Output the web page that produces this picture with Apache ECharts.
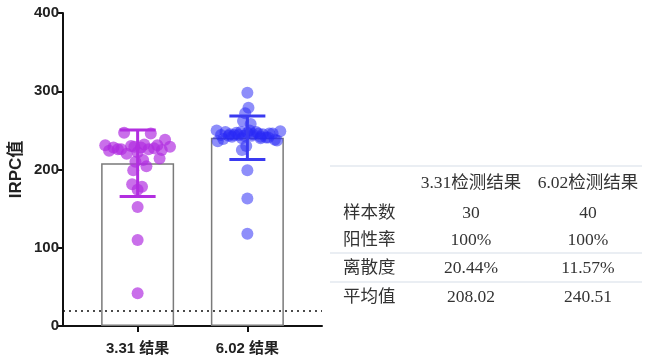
<!DOCTYPE html>
<html>
<head>
<meta charset="utf-8">
<script src="https://cdn.jsdelivr.net/npm/echarts@6/dist/echarts.min.js"></script>
<style>html,body{margin:0;padding:0;background:#fff;}#c{width:650px;height:364px;}</style>
</head>
<body>
<div id="c"></div>
<script>
// ---- data ----
const categories = ['3.31 结果', '6.02 结果'];
const yAxisName = 'IRPC值';
const means = [208.02, 240.51];
const sds = [42.52, 27.83];
const refLineValue = 20;
const g1Values = [42, 110, 152, 174, 178, 181, 199, 204, 210, 212,
  247, 246, 238, 231, 229, 228, 226, 225, 230, 232,
  227, 224, 222, 220, 226, 228, 229, 231, 226, 214];
const g1Offsets = [0, 0, 0, 0, 0.04, -0.05, -0.04, 0.08, -0.02, 0.05,
  -0.123, 0.12, 0.25, -0.295, 0.295, -0.22, -0.15, 0.22, -0.06, 0.06,
  0.15, -0.26, 0.0, -0.1, 0.1, 0.03, -0.03, 0.18, -0.18, 0.2];
const g2Values = [298, 279, 272, 262, 258, 230, 225, 199, 163, 118,
  250, 249, 236, 237, 248, 246, 244, 242, 240, 245,
  247, 243, 241, 239, 246, 244, 248, 242, 245, 250,
  238, 243, 246, 244, 247, 241, 245, 243, 248, 240];
const g2Offsets = [0, 0.01, -0.02, -0.04, 0.03, -0.01, -0.05, 0, 0, 0,
  -0.28, 0.30, -0.27, 0.27, -0.2, 0.2, -0.12, 0.12, -0.05, 0.05,
  0.0, -0.17, 0.17, -0.22, 0.23, -0.08, 0.08, -0.14, 0.14, 0.02,
  0.25, -0.03, 0.1, -0.24, -0.1, 0.19, -0.16, 0.04, -0.06, 0.12];
const tableHeaders = ['3.31检测结果', '6.02检测结果'];
const tableRowLabels = ['样本数', '阳性率', '离散度', '平均值'];
const tableCol1 = ['30', '100%', '20.44%', '208.02'];
const tableCol2 = ['40', '100%', '11.57%', '240.51'];

// ---- styles ----
const purple = 'rgba(176,44,224,0.85)';
const blue = 'rgba(40,40,245,0.66)';
const errColors = ['#b22ee0', '#3a3af0'];
const tableFont = '17.5px "Liberation Serif", "Noto Sans CJK SC", serif';
const tableColor = '#333333';

const chart = echarts.init(document.getElementById('c'), null, {renderer: 'canvas'});

const g1Data = g1Values.map((v, i) => [1 + g1Offsets[i], v]);
const g2Data = g2Values.map((v, i) => [2 + g2Offsets[i], v]);
const barData = means.map((m, i) => [i + 1, m]);
const errData = means.map((m, i) => [i + 1, m - sds[i], m + sds[i]]);

// table graphics
const graphics = [];
const tLeft = 330, tRight = 642;
const rowY = [213, 240, 268, 297];
const headerY = 183;
const col1X = 471, col2X = 588, labelX = 343;
[166, 253, 282].forEach(y => graphics.push({
  type: 'line', shape: {x1: tLeft, y1: y, x2: tRight, y2: y},
  style: {stroke: '#d5dde8', lineWidth: 1.2}, silent: true
}));
[col1X, col2X].forEach((x, i) => graphics.push({
  type: 'text', x: x, y: headerY,
  style: {text: tableHeaders[i], font: tableFont, fill: tableColor, textAlign: 'center', textVerticalAlign: 'middle'}
}));
tableRowLabels.forEach((t, r) => {
  graphics.push({type: 'text', x: labelX, y: rowY[r],
    style: {text: t, font: tableFont, fill: tableColor, textAlign: 'left', textVerticalAlign: 'middle'}});
  graphics.push({type: 'text', x: col1X, y: rowY[r],
    style: {text: tableCol1[r], font: tableFont, fill: tableColor, textAlign: 'center', textVerticalAlign: 'middle'}});
  graphics.push({type: 'text', x: col2X, y: rowY[r],
    style: {text: tableCol2[r], font: tableFont, fill: tableColor, textAlign: 'center', textVerticalAlign: 'middle'}});
});

const axisFont = '"Liberation Sans", Arial, "Noto Sans CJK SC", sans-serif';

chart.setOption({
  animation: false,
  backgroundColor: '#ffffff',
  grid: {left: 63, right: 328, top: 13, bottom: 38, containLabel: false},
  xAxis: {
    type: 'value', min: 0.32, max: 2.68,
    axisLine: {show: true, onZero: false, lineStyle: {color: '#111', width: 2}},
    axisTick: {show: true, customValues: [1, 2], length: 6, inside: false, lineStyle: {color: '#111', width: 2}},
    axisLabel: {show: true, customValues: [1, 2], margin: 15,
      formatter: v => categories[Math.round(v) - 1] || '',
      fontFamily: axisFont, fontWeight: 'bold', fontSize: 15, color: '#222'},
    splitLine: {show: false}
  },
  yAxis: {
    type: 'value', min: 0, max: 400, interval: 100,
    name: yAxisName, nameLocation: 'middle', nameGap: 38, nameRotate: 90,
    nameTextStyle: {fontFamily: axisFont, fontWeight: 'bold', fontSize: 17, color: '#222'},
    axisLine: {show: true, lineStyle: {color: '#111', width: 2}},
    axisTick: {show: true, length: 6, lineStyle: {color: '#111', width: 2}},
    axisLabel: {margin: 4, fontFamily: axisFont, fontWeight: 'bold', fontSize: 15, color: '#222'},
    splitLine: {show: false}
  },
  series: [
    {
      type: 'bar', data: barData, barWidth: 73, z: 1,
      itemStyle: {color: '#ffffff', borderColor: '#7a7a7a', borderWidth: 1.5},
      markLine: {
        silent: true, symbol: 'none', label: {show: false},
        lineStyle: {color: '#111', type: [2, 4], width: 1.6},
        data: [{yAxis: refLineValue}]
      }
    },
    {type: 'scatter', data: g1Data, symbolSize: 12, z: 3, itemStyle: {color: purple}},
    {type: 'scatter', data: g2Data, symbolSize: 12, z: 3, itemStyle: {color: blue}},
    {
      type: 'custom', z: 5, data: errData,
      encode: {x: 0, y: [1, 2]},
      renderItem: function (params, api) {
        const x = api.value(0);
        const pLo = api.coord([x, api.value(1)]);
        const pHi = api.coord([x, api.value(2)]);
        const half = 18;
        const st = {stroke: errColors[params.dataIndex], lineWidth: 3};
        return {type: 'group', children: [
          {type: 'line', shape: {x1: pHi[0], y1: pHi[1], x2: pLo[0], y2: pLo[1]}, style: st},
          {type: 'line', shape: {x1: pHi[0] - half, y1: pHi[1], x2: pHi[0] + half, y2: pHi[1]}, style: st},
          {type: 'line', shape: {x1: pLo[0] - half, y1: pLo[1], x2: pLo[0] + half, y2: pLo[1]}, style: st}
        ]};
      }
    }
  ],
  graphic: graphics
});
</script>
</body>
</html>
